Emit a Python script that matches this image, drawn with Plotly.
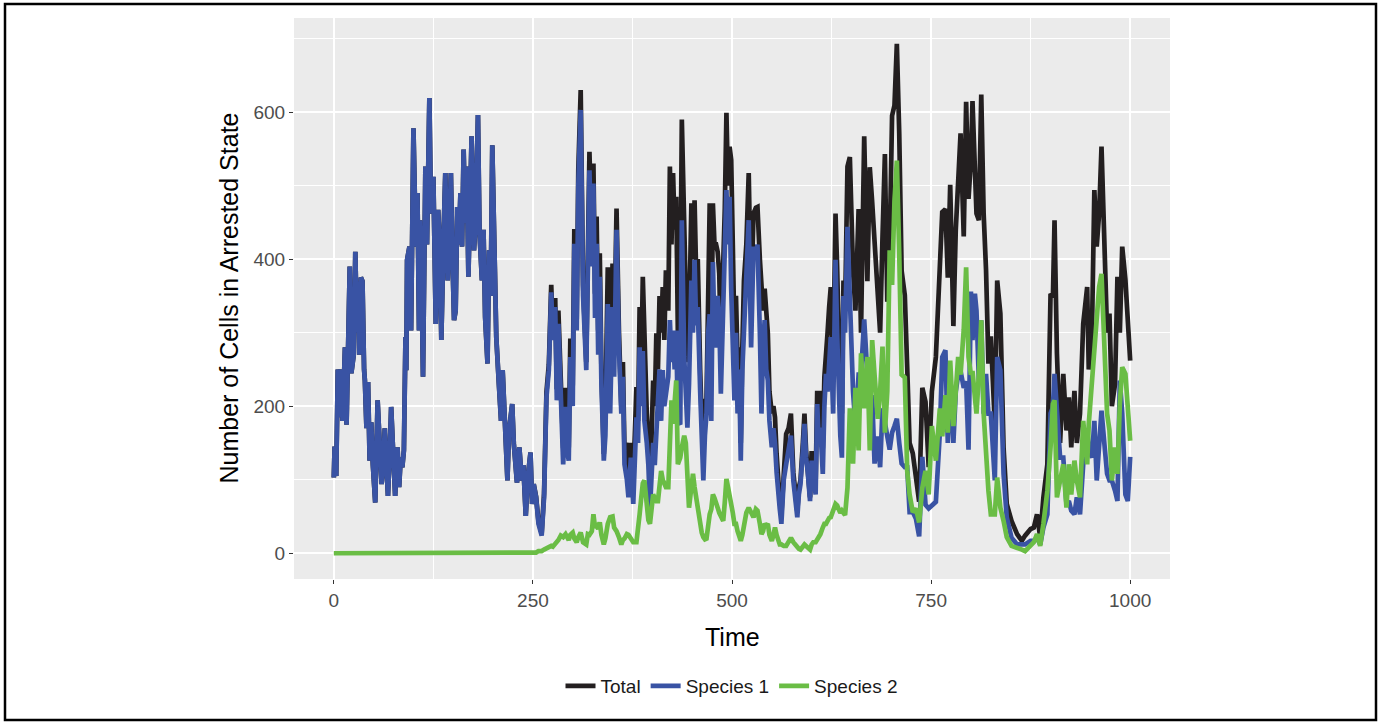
import plotly.graph_objects as go

# ---------------- data ----------------
time = [
    # 0-155
    0, 1, 3, 5, 7, 9, 11, 14, 16, 18, 20, 22, 25, 27, 29, 31, 32, 34, 36, 38,
    39, 41, 43, 45, 47, 49, 52, 55, 57, 60, 62, 64, 66, 68, 70, 72, 74, 77, 80, 82,
    84, 86, 88, 90, 91, 92, 95, 97, 100, 102, 103, 105, 107, 108, 110, 112, 115, 117, 120, 122,
    125, 128, 131, 133, 135, 138, 140, 143, 147, 149, 151, 153, 155,
    # 157-249
    157, 159, 161, 163, 165, 167, 169, 171, 173, 176, 178, 181, 183, 186, 188, 190, 193, 195, 197, 199,
    202, 204, 207, 210, 212, 215, 218, 220, 224, 226, 230, 233, 236, 238, 241, 244, 247, 249,
    # 251-310
    251, 254, 257, 261, 264, 267, 270, 273, 275, 278, 280, 282, 285, 288, 291, 293, 295, 297, 300, 302,
    305, 307, 310,
    # 313-472
    313, 317, 319, 321, 324, 326, 328, 330, 332, 334, 336, 339, 341, 344, 347, 350, 352, 355, 358, 361,
    363, 365, 368, 370, 373, 376, 380, 382, 384, 386, 388, 390, 393, 395, 397, 399, 401, 403, 405, 407,
    409, 411, 413, 415, 417, 420, 422, 424, 426, 428, 430, 432, 435, 437, 440, 442, 444, 446, 449, 451,
    453, 455, 457, 460, 462, 464, 466, 468, 470, 472,
    # 474-1000
    474, 476, 478, 480, 482, 484, 486, 489, 491, 493, 495, 497, 499, 501, 503, 505, 507, 509, 511, 513,
    515, 518, 521, 524, 527, 530, 532, 535, 537, 539, 541, 543, 545, 547, 550, 552, 554, 556, 558, 560,
    562, 565, 568, 571, 574, 577, 580, 582, 584, 586, 589, 591, 593, 595, 598, 600, 602, 605, 607, 609,
    611, 614, 616, 618, 620, 622, 624, 627, 630, 632, 634, 636, 638, 640, 642, 645, 648, 652, 655, 659,
    662, 666, 670, 673, 676, 679, 683, 686, 689, 692, 695, 698, 701, 704, 707, 710, 713, 717, 720, 723,
    727, 731, 735, 739, 743, 747, 751, 756, 761, 764, 768, 771, 774, 778, 781, 784, 787, 791, 794, 797,
    800, 802, 805, 807, 810, 813, 816, 819, 822, 825, 830, 833, 837, 841, 845, 851, 858, 864, 868, 875,
    879, 883, 887, 891, 896, 900, 903, 905, 908, 912, 916, 920, 923, 926, 930, 933, 937, 941, 946, 948,
    952, 955, 958, 961, 964, 968, 971, 974, 977, 981, 984, 987, 990, 994, 997, 1000,
]

species1 = [
    103, 145, 105, 250, 185, 250, 180, 280, 175, 285, 390, 245, 270, 410, 300, 370, 270, 375, 370, 250,
    235, 170, 233, 126, 178, 121, 69, 208, 150, 94, 120, 170, 121, 78, 130, 199, 150, 78, 144, 90,
    130, 117, 140, 294, 249, 399, 417, 303, 578, 430, 417, 490, 303, 453, 380, 240, 526, 420, 619, 462,
    512, 312, 467, 420, 290, 440, 517, 371, 517, 400, 317, 330, 471,
    420, 490, 417, 549, 449, 526, 376, 512, 567, 412, 450, 596, 435, 371, 440, 321, 258, 412, 350, 555,
    421, 294, 235, 180, 249, 185, 99, 167, 203, 149, 96, 144, 99, 120, 51, 108, 137, 67,
    94, 76, 40, 24, 76, 212, 249, 355, 290, 335, 208, 312, 230, 121, 199, 140, 126, 267, 200, 421,
    303, 500, 603,
    350, 249, 380, 521, 390, 503, 320, 421, 270, 376, 230, 126, 160, 339, 190, 335, 240, 440, 280, 190,
    240, 121, 100, 76, 130, 67, 185, 150, 280, 200, 275, 180, 150, 120, 60, 100, 150, 120, 167, 200,
    250, 180, 249, 200, 221, 240, 317, 260, 303, 250, 303, 180, 175, 453, 267, 200, 171, 230, 371, 300,
    399, 310, 335, 221, 150, 99, 160, 190, 300, 325,
    180, 396, 300, 280, 350, 320, 217, 326, 400, 494, 420, 485, 360, 300, 208, 300, 190, 250, 126, 250,
    303, 350, 453, 280, 417, 400, 420, 300, 190, 280, 317, 250, 235, 180, 144, 170, 149, 110, 76, 60,
    40, 100, 121, 140, 160, 99, 60, 49, 80, 94, 140, 176, 130, 112, 71, 126, 110, 80, 203, 150,
    171, 108, 200, 244, 220, 249, 294, 190, 399, 300, 212, 160, 130, 350, 300, 444, 347, 220, 173, 243,
    243, 318, 243, 187, 215, 122, 159, 117, 197, 173, 159, 141, 164, 173, 183, 150, 122, 117, 117, 56,
    56, 47, 23, 131, 66, 61, 66, 70, 164, 267, 276, 150, 243, 150, 220, 243, 248, 225, 234, 141,
    356, 290, 353, 330, 235, 317, 190, 244, 190, 190, 99, 267, 249, 108, 49, 21, 12, 12, 12, 17,
    17, 21, 12, 35, 53, 190, 199, 244, 190, 130, 130, 67, 71, 58, 53, 76, 53, 121, 167, 144,
    130, 180, 99, 144, 194, 144, 108, 99, 99, 85, 71, 235, 190, 80, 71, 131,
]

species2 = [
    0, 0, 0, 0, 0, 0, 0, 0, 0, 0, 0, 0, 0, 0, 0, 0, 0, 0, 0, 0,
    0, 0, 0, 0, 0, 0, 0, 0, 0, 0, 0, 0, 0, 0, 0, 0, 0, 0, 0, 0,
    0, 0, 0, 0, 0, 0, 0, 0, 0, 0, 0, 0, 0, 0, 0, 0, 0, 0, 0, 0,
    0, 0, 0, 0, 0, 0, 0, 0, 0, 0, 0, 0, 0,
    0, 0, 0, 0, 0, 0, 0, 0, 0, 0, 0, 0, 0, 0, 0, 0, 0, 0, 0, 0,
    0, 0, 0, 0, 0, 0, 0, 0, 0, 0, 0, 0, 0, 0, 0, 0, 0, 0,
    0, 1, 3, 3, 5, 7, 8, 10, 9, 12, 15, 18, 24, 22, 26, 20, 18, 25, 28, 20,
    15, 22, 28,
    15, 12, 26, 25, 30, 53, 35, 37, 33, 42, 25, 12, 20, 40, 49, 50, 35, 30, 22, 12,
    18, 20, 26, 25, 20, 15, 15, 30, 53, 75, 95, 99, 60, 45, 40, 55, 80, 75, 71, 71,
    100, 112, 100, 94, 90, 90, 180, 208, 176, 200, 235, 121, 130, 144, 160, 150, 90, 62, 90, 108,
    90, 76, 60, 35, 28, 22, 19, 20, 40, 53,
    60, 80, 75, 65, 62, 55, 50, 44, 70, 101, 90, 80, 71, 55, 40, 40, 30, 20, 17, 25,
    40, 55, 62, 55, 49, 60, 58, 40, 26, 30, 40, 38, 40, 25, 17, 25, 35, 25, 15, 12,
    12, 10, 10, 15, 21, 15, 10, 8, 6, 5, 8, 12, 10, 8, 5, 12, 15, 15, 18, 22,
    26, 35, 40, 40, 45, 48, 49, 60, 67, 65, 60, 55, 58, 56, 52, 89, 197, 122, 225, 140,
    272, 197, 267, 140, 290, 243, 183, 220, 281, 164, 220, 412, 365, 478, 534, 407, 243, 239, 112, 80,
    56, 61, 42, 89, 112, 80, 173, 126, 197, 159, 215, 164, 262, 173, 229, 267, 243, 304, 389, 267,
    243, 248, 212, 190, 244, 317, 190, 121, 85, 53, 53, 103, 62, 44, 22, 10, 8, 5, 3, 10,
    15, 26, 10, 40, 85, 144, 203, 208, 76, 99, 121, 62, 121, 80, 126, 99, 76, 180, 121, 176,
    235, 290, 326, 362, 380, 271, 190, 167, 99, 144, 108, 203, 253, 244, 199, 153,
]

total = [
    103, 145, 105, 250, 185, 250, 180, 280, 175, 285, 390, 245, 270, 410, 300, 370, 270, 375, 370, 250,
    235, 170, 233, 126, 178, 121, 69, 208, 150, 94, 120, 170, 121, 78, 130, 199, 150, 78, 144, 90,
    130, 117, 140, 294, 249, 399, 417, 303, 578, 430, 417, 490, 303, 453, 380, 240, 526, 420, 619, 462,
    512, 312, 467, 420, 290, 440, 517, 371, 517, 400, 317, 330, 471,
    420, 490, 417, 549, 449, 526, 376, 512, 567, 412, 450, 596, 435, 371, 440, 321, 258, 412, 350, 555,
    421, 294, 235, 180, 249, 185, 99, 167, 203, 149, 96, 144, 99, 120, 51, 108, 137, 67,
    94, 77, 43, 27, 81, 219, 257, 365, 299, 347, 223, 330, 254, 143, 225, 160, 144, 292, 228, 441,
    318, 522, 630,
    365, 260, 400, 546, 420, 530, 353, 458, 303, 408, 250, 135, 190, 389, 221, 394, 280, 469, 303, 200,
    260, 140, 150, 110, 150, 100, 226, 180, 335, 250, 376, 280, 190, 150, 90, 160, 235, 200, 299, 250,
    350, 300, 362, 290, 385, 330, 526, 420, 517, 440, 485, 300, 330, 590, 420, 330, 260, 300, 476, 400,
    480, 380, 400, 250, 180, 210, 190, 210, 380, 476,
    250, 476, 420, 420, 410, 380, 280, 380, 470, 599, 500, 553, 535, 420, 300, 350, 262, 280, 150, 280,
    371, 420, 517, 340, 462, 470, 471, 400, 362, 330, 360, 320, 299, 220, 190, 200, 185, 135, 90, 70,
    52, 115, 162, 170, 190, 110, 70, 57, 90, 99, 150, 190, 140, 120, 76, 139, 125, 95, 221, 172,
    221, 143, 240, 284, 300, 335, 362, 253, 462, 390, 280, 200, 190, 371, 330, 526, 539, 384, 330, 468,
    300, 567, 370, 525, 478, 421, 347, 300, 431, 543, 342, 417, 595, 609, 693, 571, 384, 351, 253, 150,
    136, 103, 70, 225, 206, 117, 220, 267, 379, 464, 468, 375, 501, 309, 440, 520, 571, 431, 614, 482,
    534, 615, 490, 462, 453, 624, 462, 385, 258, 295, 176, 371, 326, 144, 67, 44, 26, 17, 24, 33,
    35, 53, 22, 76, 121, 353, 349, 453, 272, 150, 244, 167, 212, 144, 221, 150, 190, 312, 362, 250,
    300, 494, 417, 462, 553, 417, 300, 326, 200, 230, 376, 300, 417, 372, 300, 262,
]

series_names = ["Total", "Species 1", "Species 2"]
series_colors = ["#231F20", "#3953A4", "#6ABD45"]

x_ticks = [0, 250, 500, 750, 1000]
y_ticks = [0, 200, 400, 600]

# ---------------- figure ----------------
W, H = 1383, 722
L, R, T, B = 294, 213, 18, 143
pw, ph = W - L - R, H - T - B

fig = go.Figure()
for name, vals, col in zip(series_names, [total, species1, species2], series_colors):
    fig.add_trace(go.Scatter(x=time, y=vals, mode="lines", name=name,
                             line=dict(color=col, width=4.7)))

font = "Liberation Sans, Arial, sans-serif"
axis_common = dict(
    showgrid=True, gridcolor="white", gridwidth=1.6,
    zeroline=False, showline=False,
    ticks="outside", ticklen=4, tickwidth=1.2, tickcolor="#333333",
    tickfont=dict(family=font, size=19, color="#4D4D4D"),
)

fig.update_layout(
    width=W, height=H,
    margin=dict(l=L, r=R, t=T, b=B),
    paper_bgcolor="white", plot_bgcolor="#EBEBEB",
    showlegend=True,
    legend=dict(orientation="h", x=0.5, xanchor="center",
                y=(579 - 686) / ph, yanchor="middle",
                font=dict(family=font, size=19, color="#1A1A1A"),
                bgcolor="rgba(0,0,0,0)", itemwidth=30),
    xaxis=dict(range=[-50, 1050], tickvals=x_ticks,
               ticktext=[str(v) for v in x_ticks],
               minor=dict(tickvals=[125, 375, 625, 875], showgrid=True,
                          gridcolor="white", gridwidth=0.8, ticks=""),
               **axis_common),
    yaxis=dict(range=[-35, 728], tickvals=y_ticks,
               ticktext=[str(v) for v in y_ticks],
               minor=dict(tickvals=[100, 300, 500, 700], showgrid=True,
                          gridcolor="white", gridwidth=0.8, ticks=""),
               **axis_common),
    annotations=[
        dict(text="Time", xref="paper", yref="paper", x=0.5, y=(579 - 637) / ph,
             xanchor="center", yanchor="middle", showarrow=False,
             font=dict(family=font, size=25, color="black")),
        dict(text="Number of Cells in Arrested State", xref="paper", yref="paper",
             x=(228 - L) / pw, y=0.5, xanchor="center", yanchor="middle",
             textangle=-90, showarrow=False,
             font=dict(family=font, size=25, color="black")),
    ],
    shapes=[
        dict(type="rect", xref="paper", yref="paper",
             x0=(5 - L) / pw, x1=(1376 - L) / pw,
             y0=(579 - 720) / ph, y1=(579 - 4) / ph,
             line=dict(color="black", width=2.5), fillcolor="rgba(0,0,0,0)",
             layer="above"),
    ],
)

fig.write_html("out.html", config={"displayModeBar": False},
               post_script="document.body.style.margin='0';")
